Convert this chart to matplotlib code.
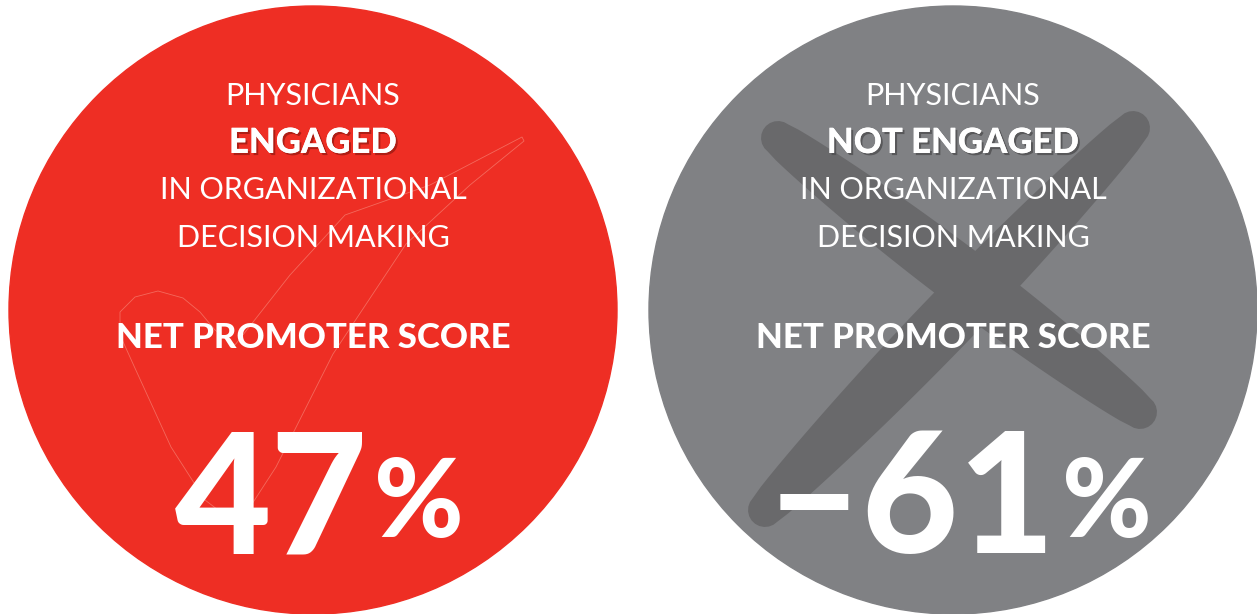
"""Two Net Promoter Score circles: physicians engaged vs not engaged."""

import numpy as np
import matplotlib.pyplot as plt
from matplotlib.patches import Circle, Polygon
import matplotlib.patheffects as pe

# data
groups = ['ENGAGED', 'NOT ENGAGED']
nps_values = [47, -61]
circle_colors = ['#EE2E24', '#808184']
shadow_colors = ['#9E1A12', '#4E4E50']

header_top = 'PHYSICIANS'
header_bottom = ['IN ORGANIZATIONAL', 'DECISION MAKING']
score_label = 'NET PROMOTER SCORE'

FONT = 'Lato'

fig = plt.figure(figsize=(12.57, 6.14), dpi=100)
ax = fig.add_axes([0, 0, 1, 1])
ax.set_xlim(0, 1257)
ax.set_ylim(614, 0)
ax.set_aspect('equal')
ax.axis('off')

centers = [(313, 310), (953, 310)]
radius = 304

for i, (cx, cy) in enumerate(centers):
    ax.add_patch(Circle((cx, cy), radius, color=circle_colors[i], zorder=1))

# faint check mark outline in the red circle
check_xy = [(522, 137), (430, 185), (345, 215), (290, 275), (235, 345),
            (215, 330), (200, 312), (183, 298), (158, 291), (135, 297),
            (120, 312), (120, 335), (134, 366), (171, 447), (205, 500),
            (222, 513), (240, 512), (252, 504), (276, 467), (333, 354),
            (406, 244), (470, 185), (524, 141)]
ax.add_patch(Polygon(check_xy, closed=True, fill=False, edgecolor='#F4695C',
                     lw=0.6, joinstyle='round', zorder=2))


def brush_stroke(p0, p1, w_mid, w_end, n=40):
    # tapered stroke with round ends, as a polygon
    p0, p1 = np.array(p0, float), np.array(p1, float)
    d = p1 - p0
    u = d / np.hypot(*d)
    nrm = np.array([-u[1], u[0]])
    t = np.linspace(0, 1, n)
    w = w_end + (w_mid - w_end) * np.sin(np.pi * t) ** 0.7
    pts = p0 + np.outer(t, d)
    left = pts + nrm * (w / 2)[:, None]
    right = pts - nrm * (w / 2)[:, None]
    a = np.linspace(0, np.pi, 12)
    cap1 = p1 + (w_end / 2) * (np.outer(np.cos(a), nrm) + np.outer(np.sin(a), u))
    cap0 = p0 + (w_end / 2) * (np.outer(-np.cos(a), nrm) - np.outer(np.sin(a), u))
    return np.vstack([left, cap1, right[::-1], cap0])


ax.add_patch(Polygon(brush_stroke((778, 138), (1140, 412), 58, 34),
                     color='#69696B', lw=0, zorder=2))
ax.add_patch(Polygon(brush_stroke((1133, 128), (765, 510), 58, 34),
                     color='#69696B', lw=0, zorder=2))

renderer = fig.canvas.get_renderer()

for i, (cx, cy) in enumerate(centers):
    ax.text(cx, 96, header_top, ha='center', va='center', color='white',
            fontsize=22, family=FONT, fontweight='normal', zorder=3)
    ax.text(cx, 143, groups[i], ha='center', va='center', color='white',
            fontsize=25, family=FONT, fontweight='black', zorder=3,
            path_effects=[pe.withSimplePatchShadow(offset=(1.5, -1.5),
                                                   shadow_rgbFace=shadow_colors[i],
                                                   alpha=0.8),
                          pe.Normal()])
    for j, line in enumerate(header_bottom):
        ax.text(cx, 190 + 48 * j, line, ha='center', va='center', color='white',
                fontsize=22, family=FONT, fontweight='normal', zorder=3)
    ax.text(cx, 338, score_label, ha='center', va='center', color='white',
            fontsize=25, family=FONT, fontweight='black', zorder=3)

    # big score: number + smaller %, centred together under the label
    val = nps_values[i]
    num = f'{val}' if val >= 0 else f'\u2013{abs(val)}'
    t_num = ax.text(0, 505, num, ha='left', va='center', color='white',
                    fontsize=120, family=FONT, fontweight='black', zorder=3)
    t_pct = ax.text(0, 505, '%', ha='left', va='center', color='white',
                    fontsize=78, family=FONT, fontweight='black', zorder=3)
    w_num = t_num.get_window_extent(renderer).width
    w_pct = t_pct.get_window_extent(renderer).width
    gap = 6
    x0 = cx + 6 - (w_num + gap + w_pct) / 2
    t_num.set_x(x0)
    t_pct.set_x(x0 + w_num + gap)

plt.savefig('out.png', dpi=100)
